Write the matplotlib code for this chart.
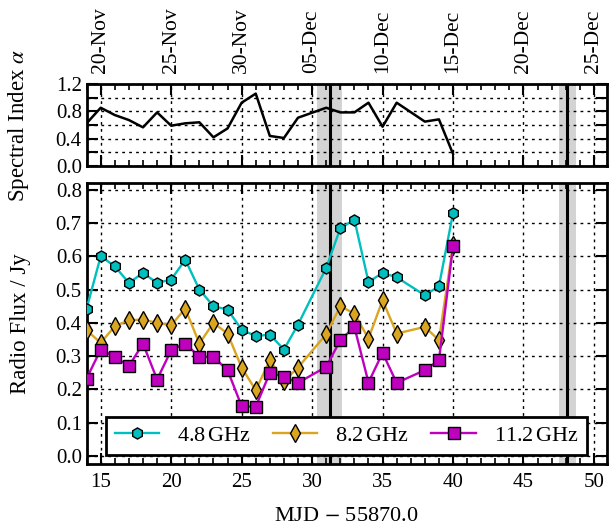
import matplotlib
matplotlib.use('Agg')
import matplotlib.pyplot as plt
from matplotlib.ticker import MultipleLocator

plt.rcParams['font.family'] = ['Liberation Serif', 'DejaVu Serif']
plt.rcParams['mathtext.fontset'] = 'stix'

# MJD - 55870
days = [14, 15, 16, 17, 18, 19, 20, 21, 22, 23, 24, 25, 26, 27, 28, 29,
        31, 32, 33, 34, 35, 36, 38, 39, 40]
flux_48 = [0.443, 0.60, 0.57, 0.52, 0.55, 0.52, 0.53, 0.59, 0.50, 0.45, 0.44, 0.38, 0.36,
           0.365, 0.32, 0.395, 0.565, 0.684, 0.71, 0.523, 0.55, 0.537, 0.483, 0.51, 0.73]
flux_82 = [0.378, 0.34, 0.39, 0.408, 0.41, 0.40, 0.393, 0.443, 0.338, 0.40, 0.368, 0.266, 0.198,
           0.288, 0.225, 0.266, 0.366, 0.45, 0.428, 0.353, 0.468, 0.368, 0.388, 0.348, 0.634]
flux_112 = [0.233, 0.32, 0.298, 0.27, 0.338, 0.23, 0.318, 0.338, 0.298, 0.298, 0.258, 0.15, 0.148,
            0.25, 0.238, 0.22, 0.268, 0.348, 0.388, 0.221, 0.31, 0.22, 0.258, 0.288, 0.63]
alpha = [0.625, 0.853, 0.746, 0.673, 0.566, 0.785, 0.59, 0.625, 0.64, 0.42, 0.55, 0.927, 1.06,
         0.44, 0.41, 0.707, 0.853, 0.785, 0.785, 0.927, 0.575, 0.927, 0.65, 0.683, 0.176]

# events (centre, half width of grey band)
events = [31.25, 48.12]
event_halfwidth = [0.9, 0.6]

date_ticks = [15, 20, 25, 30, 35, 40, 45, 50]
date_labels = ['20-Nov', '25-Nov', '30-Nov', '05-Dec', '10-Dec', '15-Dec', '20-Dec', '25-Dec']

fig = plt.figure(figsize=(6.1, 5.32), dpi=100)
ax_top = fig.add_axes([0.142, 0.688, 0.8525, 0.154])
ax = fig.add_axes([0.142, 0.127, 0.8525, 0.529])

grid_style = dict(color='k', linestyle=(0, (2, 3)), linewidth=1.0)

for a in (ax_top, ax):
    for c, hw in zip(events, event_halfwidth):
        a.axvspan(c - hw, c + hw, color='#d3d3d3', lw=0, zorder=0)
        a.axvline(c, color='k', lw=2.2, zorder=1)
    for s in a.spines.values():
        s.set_linewidth(2)
    a.set_xlim(14, 50.9)
    a.xaxis.set_major_locator(MultipleLocator(5))
    a.xaxis.set_minor_locator(MultipleLocator(1))
    a.tick_params(which='both', direction='in', top=True, right=True, labelsize=15)
    a.tick_params(which='major', length=8, width=1.5)
    a.tick_params(which='minor', length=4, width=1.2)
    a.grid(True, which='major', **grid_style)
    a.set_axisbelow(False)

# top panel: spectral index
ax_top.plot(days, alpha, color='k', lw=1.8, zorder=3)
ax_top.set_ylim(0, 1.2)
ax_top.set_yticks([0, 0.2, 0.4, 0.6, 0.8, 1.0, 1.2])
ax_top.set_yticklabels(['0.0', '', '0.4', '', '0.8', '', '1.2'])
ax_top.set_xticks(date_ticks)
ax_top.set_xticklabels(date_labels, rotation=90, fontsize=15.5)
ax_top.tick_params(axis='x', labeltop=True, labelbottom=False, pad=8)
ax_top.set_ylabel(r'Spectral Index $\alpha$', fontsize=16.5)
ax_top.yaxis.set_label_coords(-0.107, 0.5)

# bottom panel: fluxes
ax.plot(days, flux_48, color='#00bfbf', lw=1.7, marker='h', ms=8, mec='k', mew=1,
        label=r'4.8$\,$GHz', zorder=3)
ax.plot(days, flux_82, color='#daa520', lw=1.7, marker='d', ms=9, mec='k', mew=1,
        label=r'8.2$\,$GHz', zorder=3)
ax.plot(days, flux_112, color='#bf00bf', lw=1.7, marker='s', ms=8.5, mec='k', mew=1,
        label=r'11.2$\,$GHz', zorder=3)
ax.set_ylim(-0.025, 0.82)
ax.yaxis.set_major_locator(MultipleLocator(0.1))
ax.tick_params(axis='x', which='major', pad=6)
ax.set_ylabel('Radio Flux / Jy', fontsize=16.5)
ax.yaxis.set_label_coords(-0.107, 0.5)
ax.set_xlabel(r'MJD $-$ 55870.0', fontsize=16, labelpad=11)

leg = ax.legend(loc='lower center', bbox_to_anchor=(0.5, 0.034), borderaxespad=0,
                ncol=3, fontsize=16, frameon=True, fancybox=False, framealpha=1,
                handlelength=2.0, columnspacing=1.0, handletextpad=0.8,
                borderpad=0.4)
leg.get_frame().set_edgecolor('k')
leg.get_frame().set_linewidth(2)
leg.set_zorder(5)

fig.savefig('out.png', dpi=100)
